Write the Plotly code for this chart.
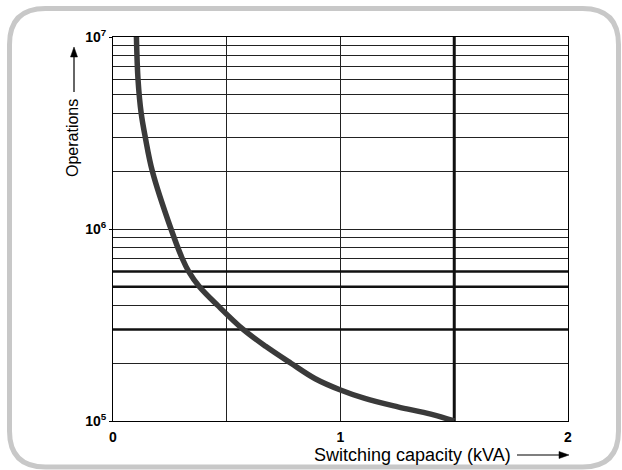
import plotly.graph_objects as go

# ---- data ----
cap_kva = [0.103, 0.110, 0.124, 0.142, 0.173, 0.255, 0.305, 0.333, 0.380,
           0.460, 0.572, 0.671, 0.782, 0.889, 1.0, 1.107, 1.252, 1.397, 1.5]
operations = [1e7, 6e6, 4e6, 3e6, 2e6, 1e6, 7e5, 6e5, 5e5,
              4e5, 3e5, 2.45e5, 2e5, 1.66e5, 1.45e5, 1.31e5, 1.185e5, 1.085e5, 1e5]

x_tick_vals = [0, 1, 2]
x_tick_text = ["<b>0</b>", "<b>1</b>", "<b>2</b>"]
x_minor_vals = [0.5, 1.5]
y_tick_vals = [1e5, 1e6, 1e7]
y_tick_text = ["<b>10<sup>5</sup></b>", "<b>10<sup>6</sup></b>", "<b>10<sup>7</sup></b>"]
y_minor_vals = [m * d for d in (1e5, 1e6) for m in range(2, 10)]
thick_h_lines = [3e5, 5e5, 6e5]
thick_v_lines = [1.5]

W, H = 622, 470
ML, MR, MT, MB = 113, 54, 37, 49
PW, PH = W - ML - MR, H - MT - MB

def px2paper(px, py):
    return (px - ML) / PW, (H - MB - py) / PH

def pth(cmds):
    s = ""
    for cmd, coords in cmds:
        s += cmd + " " + " ".join("%.5f,%.5f" % px2paper(*c) for c in coords) + " "
    return s

fig = go.Figure()

for v in thick_h_lines:
    fig.add_trace(go.Scatter(x=[0, 2], y=[v, v], mode="lines",
                             line=dict(color="#111111", width=2.5),
                             hoverinfo="skip", showlegend=False))
for v in thick_v_lines:
    fig.add_trace(go.Scatter(x=[v, v], y=[1e5, 1e7], mode="lines",
                             line=dict(color="#111111", width=3),
                             hoverinfo="skip", showlegend=False))

fig.add_trace(go.Scatter(x=cap_kva, y=operations, mode="lines",
                         line=dict(color="#3a3a3a", width=5.5, shape="spline", smoothing=1.0),
                         showlegend=False))

# rounded frame
L, R, T, B, r = 9.5, 618.5, 8.5, 467, 36
frame = [("M", [(L + r, T)]), ("L", [(R - r, T)]), ("Q", [(R, T), (R, T + r)]),
         ("L", [(R, B - r)]), ("Q", [(R, B), (R - r, B)]), ("L", [(L + r, B)]),
         ("Q", [(L, B), (L, B - r)]), ("L", [(L, T + r)]), ("Q", [(L, T), (L + r, T)])]
fig.add_shape(type="path", path=pth(frame) + "Z", xref="paper", yref="paper",
              line=dict(color="#c8c8c8", width=5))

# arrows as shapes
fig.add_shape(type="path", path=pth([("M", [(517, 455)]), ("L", [(562, 455)])]),
              xref="paper", yref="paper", line=dict(color="black", width=1.2))
fig.add_shape(type="path", path=pth([("M", [(569, 455)]), ("L", [(559, 451.5)]),
                                      ("L", [(559, 458.5)])]) + "Z",
              xref="paper", yref="paper", line=dict(color="black", width=0.5),
              fillcolor="black")
fig.add_shape(type="path", path=pth([("M", [(74, 92)]), ("L", [(74, 54)])]),
              xref="paper", yref="paper", line=dict(color="black", width=1.2))
fig.add_shape(type="path", path=pth([("M", [(74, 47)]), ("L", [(70.5, 57)]),
                                      ("L", [(77.5, 57)])]) + "Z",
              xref="paper", yref="paper", line=dict(color="black", width=0.5),
              fillcolor="black")

axis_font = dict(family="Liberation Sans, Arial", size=14, color="black")
fig.update_layout(
    width=W, height=H,
    margin=dict(l=ML, r=MR, t=MT, b=MB, autoexpand=False),
    paper_bgcolor="white", plot_bgcolor="white",
    xaxis=dict(range=[0, 2], tickvals=x_tick_vals, ticktext=x_tick_text,
               showgrid=True, gridcolor="#222222", gridwidth=1,
               minor=dict(tickvals=x_minor_vals, showgrid=True, gridcolor="#222222", gridwidth=1),
               showline=True, linecolor="black", linewidth=1, mirror=True,
               zeroline=False, ticks="", tickfont=axis_font, ticklabelstandoff=3),
    yaxis=dict(type="log", range=[5, 7], tickvals=y_tick_vals, ticktext=y_tick_text,
               showgrid=True, gridcolor="#222222", gridwidth=1,
               minor=dict(tickvals=y_minor_vals, showgrid=True, gridcolor="#222222", gridwidth=1),
               showline=True, linecolor="black", linewidth=1, mirror=True,
               zeroline=False, ticks="outside", ticklen=3, tickcolor="black",
               tickfont=axis_font),
)

tx, ty = px2paper(513, 455)
fig.add_annotation(text="Switching capacity (kVA)", x=tx, y=ty, xref="paper", yref="paper",
                   xanchor="right", yanchor="middle", showarrow=False,
                   font=dict(family="Liberation Sans, Arial", size=18, color="black"))
yx, yy = px2paper(72, 138)
fig.add_annotation(text="Operations", x=yx, y=yy, xref="paper", yref="paper",
                   textangle=-90, xanchor="center", yanchor="middle", showarrow=False,
                   font=dict(family="Liberation Sans, Arial", size=16, color="black"))

fig.write_html("out.html", config={"displayModeBar": False},
               post_script="document.body.style.margin='0';document.body.style.padding='0';")
